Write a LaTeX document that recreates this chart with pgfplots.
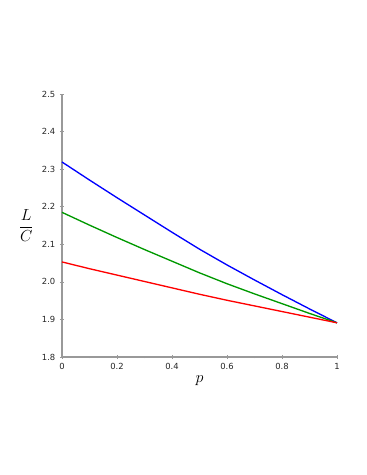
\documentclass[border=0pt]{standalone}
\usepackage{pgfplots}
\pgfplotsset{compat=1.18}
\usepackage{fontspec}
\newfontfamily\ticksfont{DejaVu Sans}
\begin{document}
\begin{tikzpicture}
\useasboundingbox (0,0) rectangle (275.25pt,356.25pt);
\begin{axis}[
  at={(46.5pt,88.5pt)}, anchor=south west,
  scale only axis, width=206.25pt, height=197.25pt,
  axis lines=left,
  axis line style={-, draw=gray!80, line width=0.8pt},
  xmin=0, xmax=1, ymin=1.8, ymax=2.5,
  xtick={0,0.2,0.4,0.6,0.8,1},
  ytick={1.8,1.9,2.0,2.1,2.2,2.3,2.4,2.5},
  minor x tick num=1, minor y tick num=1,
  xticklabels={0,0.2,0.4,0.6,0.8,1},
  yticklabels={1.8,1.9,2.0,2.1,2.2,2.3,2.4,2.5},
  tick label style={font=\ticksfont\fontsize{6.3}{7}\selectfont, text=black!85},
  tick style={gray!80, line width=0.4pt},
  major tick length=3pt, minor tick length=2pt,
  xlabel={$p$}, ylabel={$\displaystyle\frac{L}{C}$},
  label style={font=\fontsize{11.5}{13}\selectfont},
  ylabel style={rotate=-90, at={(axis description cs:-0.13,0.5)}, anchor=center},
  xlabel style={at={(axis description cs:0.5,-0.09)}, anchor=center},
  clip=false,
]
\addplot[blue, line width=1pt] coordinates {(0,2.319)(0.1,2.271)(0.2,2.224)(0.3,2.178)(0.4,2.132)(0.5,2.087)(0.6,2.045)(0.7,2.005)(0.8,1.966)(0.9,1.928)(1,1.891)};
\addplot[black!40!green, line width=1pt] coordinates {(0,2.185)(0.1,2.151)(0.2,2.118)(0.3,2.086)(0.4,2.055)(0.5,2.024)(0.6,1.995)(0.7,1.968)(0.8,1.942)(0.9,1.916)(1,1.891)};
\addplot[red, line width=1pt] coordinates {(0,2.053)(0.1,2.035)(0.2,2.018)(0.3,2.001)(0.4,1.984)(0.5,1.967)(0.6,1.951)(0.7,1.936)(0.8,1.921)(0.9,1.906)(1,1.891)};
\end{axis}
\end{tikzpicture}
\end{document}
